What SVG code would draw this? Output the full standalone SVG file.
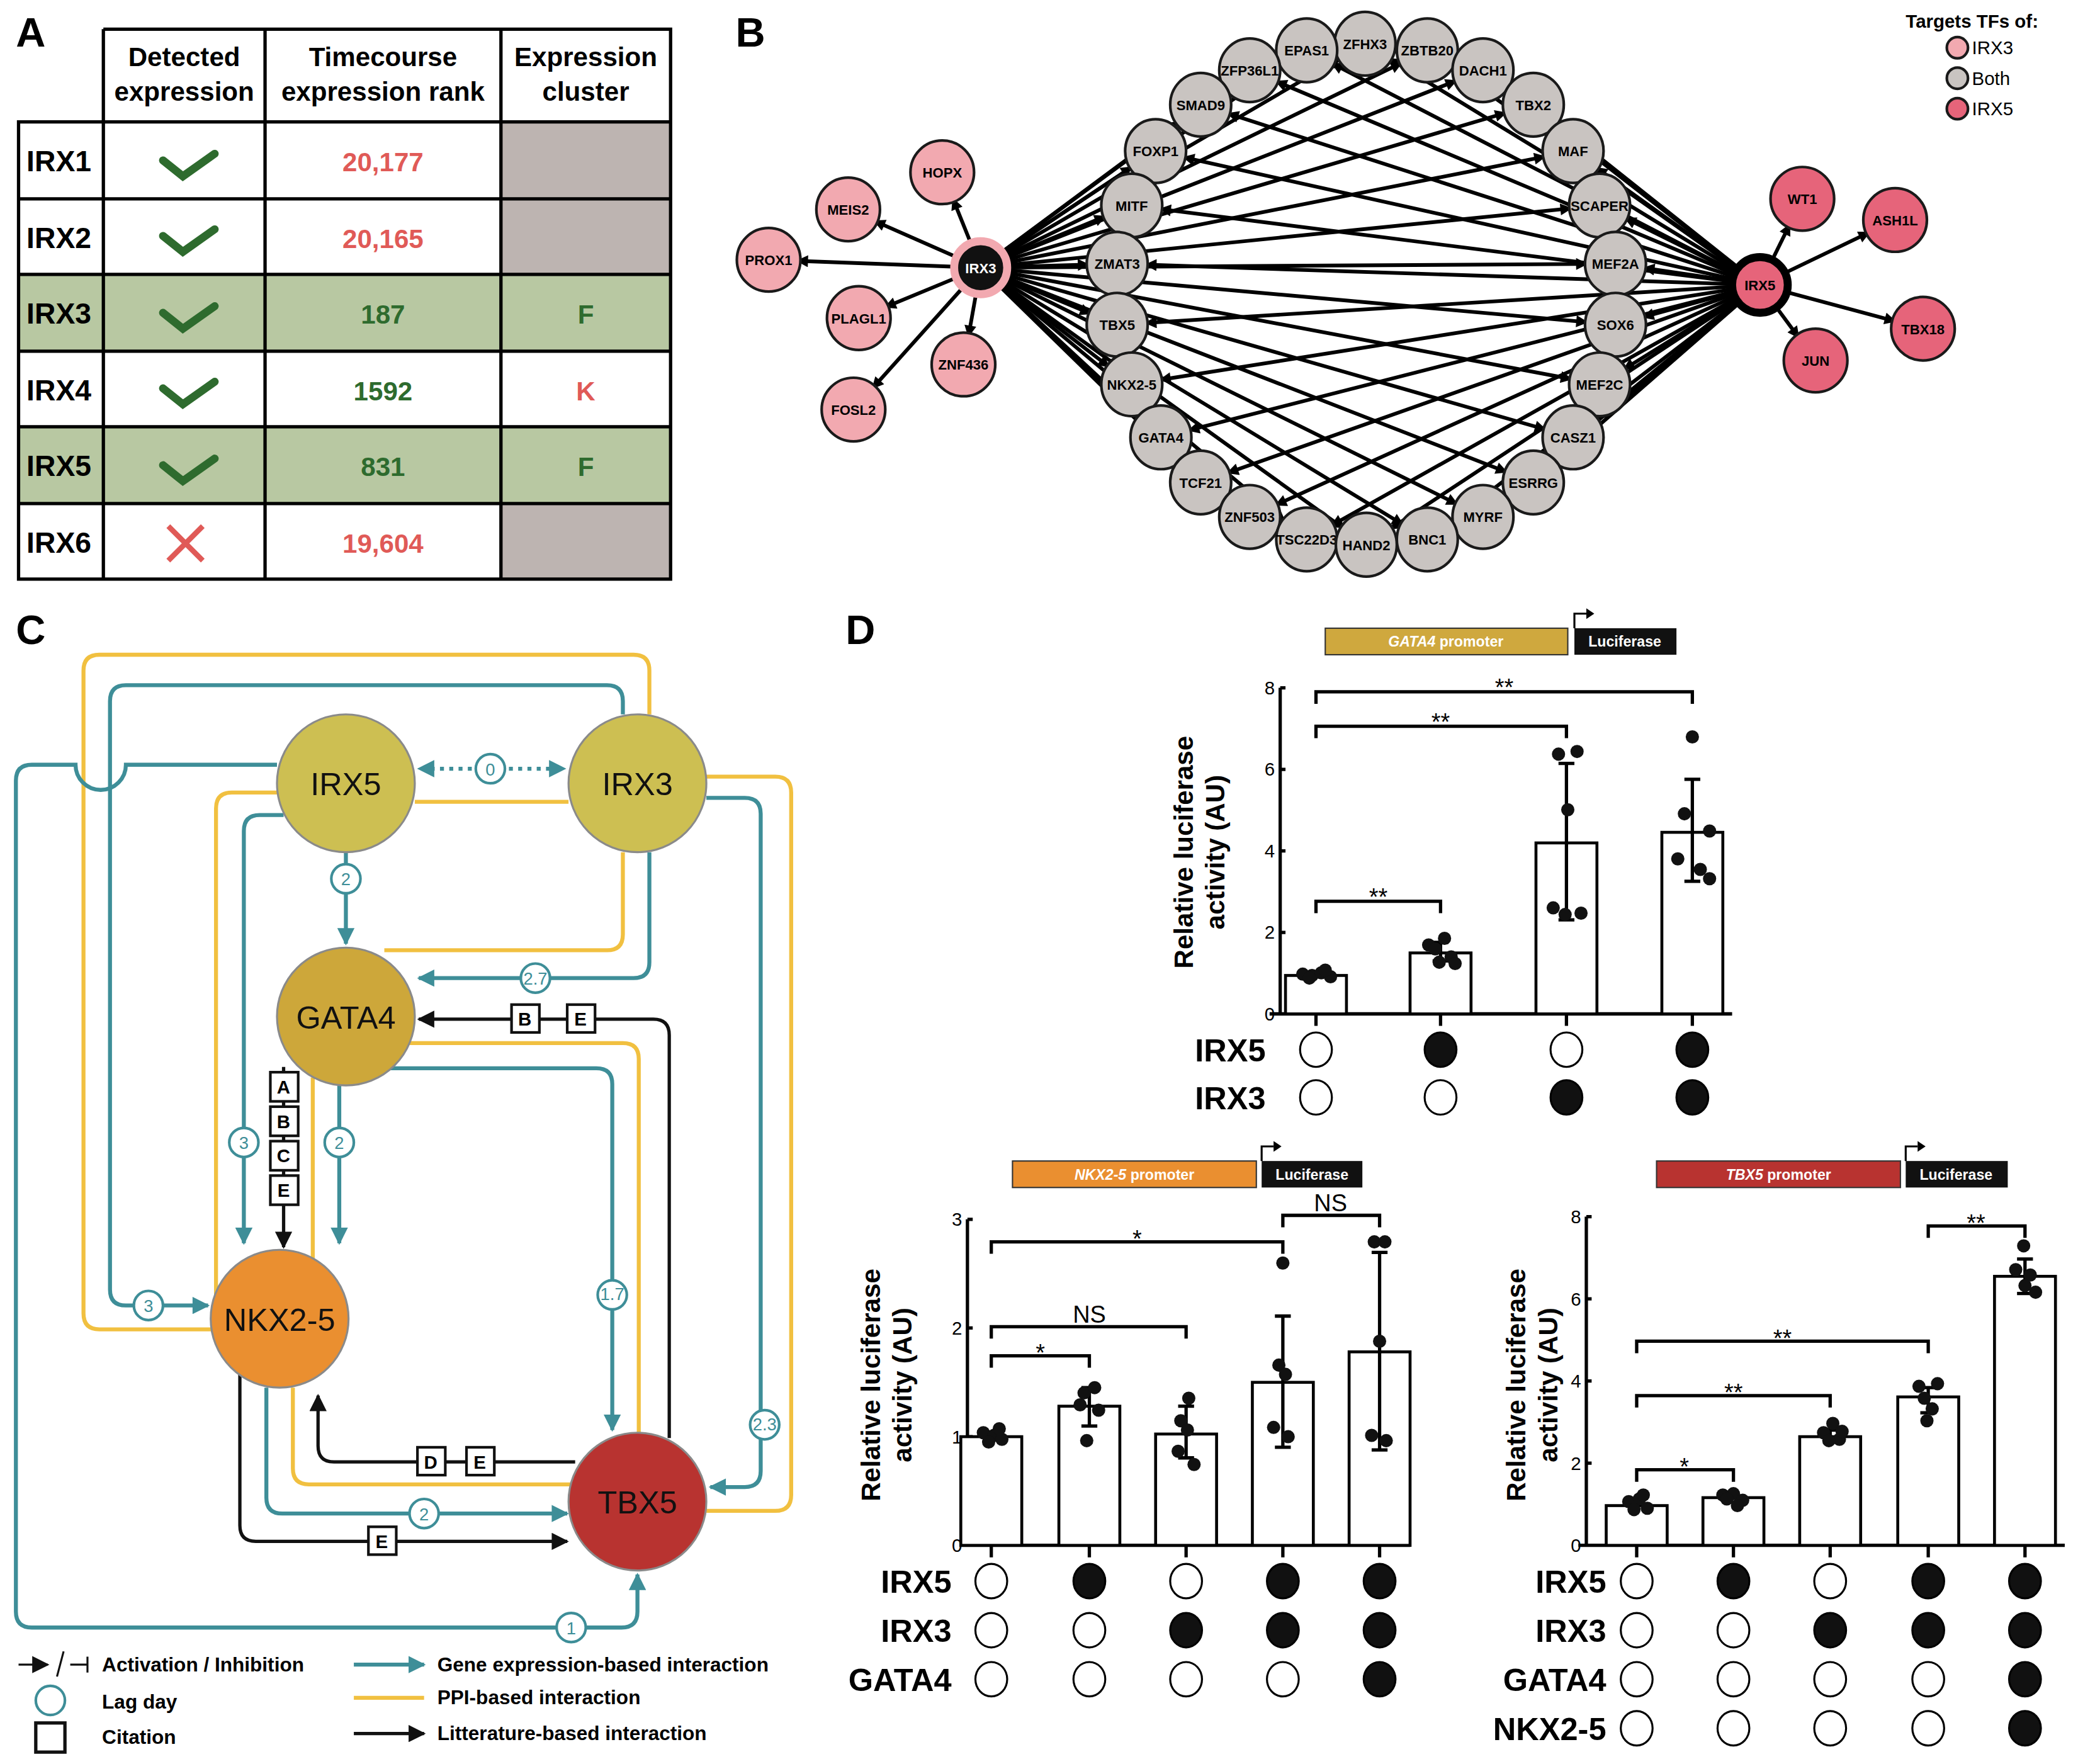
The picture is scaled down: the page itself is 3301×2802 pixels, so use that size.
<svg xmlns="http://www.w3.org/2000/svg" width="3301" height="2802" viewBox="0 0 3301 2802">
<defs>
<style>
text{font-family:"Liberation Sans",Arial,sans-serif;}
.pl{font-size:31px;font-weight:bold;}
.th{font-size:20px;font-weight:bold;text-anchor:middle;}
.rn{font-size:22px;font-weight:bold;}
.vr{font-size:20px;font-weight:bold;fill:#e05a57;text-anchor:middle;}
.vg{font-size:20px;font-weight:bold;fill:#2e6b2e;text-anchor:middle;}
.cell{fill:none;stroke:#000;stroke-width:2.5;}
.be{stroke:#000;stroke-width:2.8;fill:none;}
.rg{fill:#c9c4c1;stroke:#1a1a1a;stroke-width:2;}
.pk{fill:#f2a9b0;stroke:#1a1a1a;stroke-width:2;}
.rd{fill:#e6647a;stroke:#1a1a1a;stroke-width:2;}
.nl{font-size:10.5px;font-weight:bold;text-anchor:middle;}
.t{stroke:#3e8e98;stroke-width:3;fill:none;}
.y{stroke:#f1c040;stroke-width:3;fill:none;}
.k{stroke:#111;stroke-width:2.5;fill:none;}
.lag{fill:#fff;stroke:#3e8e98;stroke-width:2;}
.lagt{font-size:13px;fill:#3e8e98;text-anchor:middle;}
.cit{fill:#fff;stroke:#111;stroke-width:2;}
.citt{font-size:14px;font-weight:bold;text-anchor:middle;}
.big{font-size:24px;text-anchor:middle;fill:#111;}
.lg{font-size:15px;font-weight:bold;}
.ax{stroke:#000;stroke-width:2.5;fill:none;}
.bar{fill:#fff;stroke:#000;stroke-width:2.2;}
.tk{font-size:14px;text-anchor:end;}
.yl{font-size:20px;font-weight:bold;text-anchor:middle;}
.st{font-size:18px;text-anchor:middle;}
.rl{font-size:24px;font-weight:bold;text-anchor:end;}
.eo{fill:#fff;stroke:#000;stroke-width:1.5;}
.ef{fill:#111;stroke:#000;stroke-width:1.5;}
.pr{font-size:11px;font-style:italic;font-weight:bold;fill:#fff;text-anchor:middle;}
.lu{font-size:11px;font-weight:bold;fill:#fff;text-anchor:middle;}
</style>
<marker id="ab" viewBox="0 0 10 10" refX="33" refY="5" markerWidth="11" markerHeight="9" markerUnits="userSpaceOnUse" orient="auto"><path d="M0,0L10,5L0,10z" fill="#000"/></marker>
<marker id="at" viewBox="0 0 10 10" refX="9" refY="5" markerWidth="16" markerHeight="13" markerUnits="userSpaceOnUse" orient="auto"><path d="M0,0L10,5L0,10z" fill="#3e8e98"/></marker>
<marker id="ak" viewBox="0 0 10 10" refX="9" refY="5" markerWidth="16" markerHeight="13" markerUnits="userSpaceOnUse" orient="auto"><path d="M0,0L10,5L0,10z" fill="#111"/></marker>
</defs>
<rect width="3301" height="2802" fill="#fff"/>
<g transform="scale(2.10523)">
<g id="panelA">
<text class="pl" x="12" y="35">A</text>
<rect x="14" y="207" width="492" height="58" fill="#b8c8a2"/>
<rect x="14" y="322" width="492" height="58" fill="#b8c8a2"/>
<rect x="378" y="92" width="128" height="116" fill="#bdb4b1"/>
<rect x="378" y="380" width="128" height="57" fill="#bdb4b1"/>
<path class="cell" d="M78,22H506V437H14V92H506M78,22V437M200,22V437M378,22V437M506,22V437M14,150H506M14,207H506M14,265H506M14,322H506M14,380H506"/>
<text class="th" x="139" y="50">Detected</text><text class="th" x="139" y="76">expression</text>
<text class="th" x="289" y="50">Timecourse</text><text class="th" x="289" y="76">expression rank</text>
<text class="th" x="442" y="50">Expression</text><text class="th" x="442" y="76">cluster</text>
<text class="rn" x="20" y="129">IRX1</text><text class="rn" x="20" y="187">IRX2</text><text class="rn" x="20" y="244">IRX3</text><text class="rn" x="20" y="302">IRX4</text><text class="rn" x="20" y="359">IRX5</text><text class="rn" x="20" y="417">IRX6</text>
<g stroke="#2e6b2e" stroke-width="6" fill="none" stroke-linecap="round">
<path d="M123,121L138,133L162,116"/><path d="M123,178L138,190L162,173"/><path d="M123,236L138,248L162,231"/><path d="M123,293L138,305L162,288"/><path d="M123,351L138,363L162,346"/>
</g>
<path d="M127,397L153,423M153,397L127,423" stroke="#e05a57" stroke-width="4"/>
<text class="vr" x="289" y="129">20,177</text><text class="vr" x="289" y="187">20,165</text>
<text class="vg" x="289" y="244">187</text><text class="vg" x="289" y="302">1592</text><text class="vg" x="289" y="359">831</text>
<text class="vr" x="289" y="417">19,604</text>
<text class="vg" x="442" y="244">F</text><text class="vr" x="442" y="302">K</text><text class="vg" x="442" y="359">F</text>
</g>
<text class="pl" x="555" y="35">B</text>
<g id="B-edges">
<g class="be" marker-end="url(#ab)">
<path d="M740,202L1030,33"/><path d="M740,202L986,38"/><path d="M740,202L1077,38"/><path d="M740,202L943,53"/><path d="M740,202L1119,53"/><path d="M740,202L906,79"/><path d="M740,202L1157,79"/><path d="M740,202L872,114"/><path d="M740,202L1187,114"/><path d="M740,202L854,155"/><path d="M740,202L1207,155"/><path d="M740,202L843,199"/><path d="M740,202L1219,199"/><path d="M740,202L843,245"/><path d="M740,202L1219,245"/><path d="M740,202L854,290"/><path d="M740,202L1207,290"/><path d="M740,202L876,330"/><path d="M740,202L1187,330"/><path d="M740,202L906,364"/><path d="M740,202L1157,364"/><path d="M740,202L943,390"/><path d="M740,202L1119,390"/><path d="M740,202L986,407"/><path d="M740,202L1077,407"/><path d="M740,202L1031,411"/>
<path d="M1328,215L1030,33"/><path d="M1328,215L986,38"/><path d="M1328,215L1077,38"/><path d="M1328,215L943,53"/><path d="M1328,215L1119,53"/><path d="M1328,215L906,79"/><path d="M1328,215L1157,79"/><path d="M1328,215L872,114"/><path d="M1328,215L1187,114"/><path d="M1328,215L854,155"/><path d="M1328,215L1207,155"/><path d="M1328,215L843,199"/><path d="M1328,215L1219,199"/><path d="M1328,215L843,245"/><path d="M1328,215L1219,245"/><path d="M1328,215L854,290"/><path d="M1328,215L1207,290"/><path d="M1328,215L876,330"/><path d="M1328,215L1187,330"/><path d="M1328,215L906,364"/><path d="M1328,215L1157,364"/><path d="M1328,215L943,390"/><path d="M1328,215L1119,390"/><path d="M1328,215L986,407"/><path d="M1328,215L1077,407"/><path d="M1328,215L1031,411"/>
<path d="M740,202L711,130"/><path d="M740,202L640,158"/><path d="M740,202L580,196"/><path d="M740,202L648,240"/><path d="M740,202L727,275"/><path d="M740,202L644,309"/>
<path d="M1328,215L1360,150"/><path d="M1328,215L1430,166"/><path d="M1328,215L1451,248"/><path d="M1328,215L1370,272"/>
</g>
</g>
<g id="B-nodes">
<g id="n-ZFHX3"><ellipse class="rg" cx="1030" cy="33" rx="23" ry="24"/><text class="nl" x="1030" y="37">ZFHX3</text></g>
<g id="n-EPAS1"><ellipse class="rg" cx="986" cy="38" rx="23" ry="24"/><text class="nl" x="986" y="42">EPAS1</text></g>
<g id="n-ZBTB20"><ellipse class="rg" cx="1077" cy="38" rx="23" ry="24"/><text class="nl" x="1077" y="42">ZBTB20</text></g>
<g id="n-ZFP36L1"><ellipse class="rg" cx="943" cy="53" rx="23" ry="24"/><text class="nl" x="943" y="57">ZFP36L1</text></g>
<g id="n-DACH1"><ellipse class="rg" cx="1119" cy="53" rx="23" ry="24"/><text class="nl" x="1119" y="57">DACH1</text></g>
<g id="n-SMAD9"><ellipse class="rg" cx="906" cy="79" rx="23" ry="24"/><text class="nl" x="906" y="83">SMAD9</text></g>
<g id="n-TBX2"><ellipse class="rg" cx="1157" cy="79" rx="23" ry="24"/><text class="nl" x="1157" y="83">TBX2</text></g>
<g id="n-FOXP1"><ellipse class="rg" cx="872" cy="114" rx="23" ry="24"/><text class="nl" x="872" y="118">FOXP1</text></g>
<g id="n-MAF"><ellipse class="rg" cx="1187" cy="114" rx="23" ry="24"/><text class="nl" x="1187" y="118">MAF</text></g>
<g id="n-MITF"><ellipse class="rg" cx="854" cy="155" rx="23" ry="24"/><text class="nl" x="854" y="159">MITF</text></g>
<g id="n-SCAPER"><ellipse class="rg" cx="1207" cy="155" rx="23" ry="24"/><text class="nl" x="1207" y="159">SCAPER</text></g>
<g id="n-ZMAT3"><ellipse class="rg" cx="843" cy="199" rx="23" ry="24"/><text class="nl" x="843" y="203">ZMAT3</text></g>
<g id="n-MEF2A"><ellipse class="rg" cx="1219" cy="199" rx="23" ry="24"/><text class="nl" x="1219" y="203">MEF2A</text></g>
<g id="n-TBX5"><ellipse class="rg" cx="843" cy="245" rx="23" ry="24"/><text class="nl" x="843" y="249">TBX5</text></g>
<g id="n-SOX6"><ellipse class="rg" cx="1219" cy="245" rx="23" ry="24"/><text class="nl" x="1219" y="249">SOX6</text></g>
<g id="n-NKX25"><ellipse class="rg" cx="854" cy="290" rx="23" ry="24"/><text class="nl" x="854" y="294">NKX2-5</text></g>
<g id="n-MEF2C"><ellipse class="rg" cx="1207" cy="290" rx="23" ry="24"/><text class="nl" x="1207" y="294">MEF2C</text></g>
<g id="n-GATA4"><ellipse class="rg" cx="876" cy="330" rx="23" ry="24"/><text class="nl" x="876" y="334">GATA4</text></g>
<g id="n-CASZ1"><ellipse class="rg" cx="1187" cy="330" rx="23" ry="24"/><text class="nl" x="1187" y="334">CASZ1</text></g>
<g id="n-TCF21"><ellipse class="rg" cx="906" cy="364" rx="23" ry="24"/><text class="nl" x="906" y="368">TCF21</text></g>
<g id="n-ESRRG"><ellipse class="rg" cx="1157" cy="364" rx="23" ry="24"/><text class="nl" x="1157" y="368">ESRRG</text></g>
<g id="n-ZNF503"><ellipse class="rg" cx="943" cy="390" rx="23" ry="24"/><text class="nl" x="943" y="394">ZNF503</text></g>
<g id="n-MYRF"><ellipse class="rg" cx="1119" cy="390" rx="23" ry="24"/><text class="nl" x="1119" y="394">MYRF</text></g>
<g id="n-TSC22D3"><ellipse class="rg" cx="986" cy="407" rx="23" ry="24"/><text class="nl" x="986" y="411">TSC22D3</text></g>
<g id="n-BNC1"><ellipse class="rg" cx="1077" cy="407" rx="23" ry="24"/><text class="nl" x="1077" y="411">BNC1</text></g>
<g id="n-HAND2"><ellipse class="rg" cx="1031" cy="411" rx="23" ry="24"/><text class="nl" x="1031" y="415">HAND2</text></g>
<g id="n-HOPX"><circle class="pk" cx="711" cy="130" r="24"/><text class="nl" x="711" y="134">HOPX</text></g>
<g id="n-MEIS2"><circle class="pk" cx="640" cy="158" r="24"/><text class="nl" x="640" y="162">MEIS2</text></g>
<g id="n-PROX1"><circle class="pk" cx="580" cy="196" r="24"/><text class="nl" x="580" y="200">PROX1</text></g>
<g id="n-PLAGL1"><circle class="pk" cx="648" cy="240" r="24"/><text class="nl" x="648" y="244">PLAGL1</text></g>
<g id="n-ZNF436"><circle class="pk" cx="727" cy="275" r="24"/><text class="nl" x="727" y="279">ZNF436</text></g>
<g id="n-FOSL2"><circle class="pk" cx="644" cy="309" r="24"/><text class="nl" x="644" y="313">FOSL2</text></g>
<g id="n-WT1"><circle class="rd" cx="1360" cy="150" r="24"/><text class="nl" x="1360" y="154">WT1</text></g>
<g id="n-ASH1L"><circle class="rd" cx="1430" cy="166" r="24"/><text class="nl" x="1430" y="170">ASH1L</text></g>
<g id="n-TBX18"><circle class="rd" cx="1451" cy="248" r="24"/><text class="nl" x="1451" y="252">TBX18</text></g>
<g id="n-JUN"><circle class="rd" cx="1370" cy="272" r="24"/><text class="nl" x="1370" y="276">JUN</text></g>
<g id="n-IRX3"><circle cx="740" cy="202" r="20" fill="#111" stroke="#f2a9b0" stroke-width="6"/><text class="nl" x="740" y="206" fill="#fff" font-size="12">IRX3</text></g>
<g id="n-IRX5"><circle cx="1328" cy="215" r="21" fill="#e6647a" stroke="#000" stroke-width="6"/><text class="nl" x="1328" y="219" font-size="12">IRX5</text></g>
</g>
<g id="B-legend">
<text x="1438" y="21" font-size="14" font-weight="bold">Targets TFs of:</text>
<circle class="pk" cx="1477" cy="36" r="8"/><text x="1488" y="41" font-size="14">IRX3</text>
<circle class="rg" cx="1477" cy="59" r="8"/><text x="1488" y="64" font-size="14">Both</text>
<circle class="rd" cx="1477" cy="82" r="8"/><text x="1488" y="87" font-size="14">IRX5</text>
</g>
<text class="pl" x="12" y="486">C</text>
<g id="C-connectors">
<path class="y" d="M490,539V506Q490,494 478,494H75Q63,494 63,506V991Q63,1003 75,1003H160"/>
<path class="t" d="M470,539V529Q470,517 458,517H95Q83,517 83,529V973Q83,985 95,985H157" marker-end="url(#at)"/>
<path class="t" d="M209,577H95A19,19 0 0 1 57,577H24Q12,577 12,589V1216Q12,1228 24,1228H469Q481,1228 481,1216V1188" marker-end="url(#at)"/>
<path class="y" d="M212,598H175Q163,598 163,610V985"/>
<path class="t" d="M214,615H196Q184,615 184,627V938" marker-end="url(#at)"/>
<path class="y" d="M313,605H429"/>
<path class="t" d="M356,580H316" stroke-dasharray="3,4" marker-end="url(#at)"/>
<path class="t" d="M384,580H426" stroke-dasharray="3,4" marker-end="url(#at)"/>
<path class="t" d="M261,643V712" marker-end="url(#at)"/>
<path class="y" d="M470,643V705Q470,717 458,717H290"/>
<path class="t" d="M490,643V726Q490,738 478,738H316" marker-end="url(#at)"/>
<path class="k" d="M505,1085V781Q505,769 493,769H316" marker-end="url(#ak)"/>
<path class="y" d="M305,787H470Q482,787 482,799V1085"/>
<path class="t" d="M290,806H450Q462,806 462,818V1079" marker-end="url(#at)"/>
<path class="t" d="M533,602H562Q574,602 574,614V1110Q574,1122 562,1122H536" marker-end="url(#at)"/>
<path class="y" d="M533,586H585Q597,586 597,598V1128Q597,1140 585,1140H533"/>
<path class="k" d="M214,805V941" marker-end="url(#ak)"/>
<path class="t" d="M256,819V938" marker-end="url(#at)"/>
<path class="y" d="M236,813V950"/>
<path class="k" d="M434,1103H252Q240,1103 240,1091V1053" marker-end="url(#ak)"/>
<path class="y" d="M221,1047V1108Q221,1120 233,1120H434"/>
<path class="t" d="M201,1047V1130Q201,1142 213,1142H428" marker-end="url(#at)"/>
<path class="k" d="M181,1037V1151Q181,1163 193,1163H428" marker-end="url(#ak)"/>
</g>
<g id="C-labels">
<circle class="lag" cx="370" cy="580" r="11"/><text class="lagt" x="370" y="585">0</text>
<circle class="lag" cx="261" cy="663" r="11"/><text class="lagt" x="261" y="668">2</text>
<circle class="lag" cx="404" cy="738" r="11"/><text class="lagt" x="404" y="743" font-size="11">2.7</text>
<circle class="lag" cx="184" cy="862" r="11"/><text class="lagt" x="184" y="867">3</text>
<circle class="lag" cx="256" cy="862" r="11"/><text class="lagt" x="256" y="867">2</text>
<circle class="lag" cx="112" cy="985" r="11"/><text class="lagt" x="112" y="990">3</text>
<circle class="lag" cx="462" cy="977" r="11"/><text class="lagt" x="462" y="981" font-size="11">1.7</text>
<circle class="lag" cx="577" cy="1075" r="11"/><text class="lagt" x="577" y="1079" font-size="11">2.3</text>
<circle class="lag" cx="320" cy="1142" r="11"/><text class="lagt" x="320" y="1147">2</text>
<circle class="lag" cx="431" cy="1228" r="11"/><text class="lagt" x="431" y="1233">1</text>
<rect class="cit" x="386" y="758" width="21" height="21"/><text class="citt" x="396" y="774">B</text>
<rect class="cit" x="428" y="758" width="21" height="21"/><text class="citt" x="438" y="774">E</text>
<rect class="cit" x="204" y="809" width="21" height="22"/><text class="citt" x="214" y="825">A</text>
<rect class="cit" x="204" y="835" width="21" height="22"/><text class="citt" x="214" y="851">B</text>
<rect class="cit" x="204" y="861" width="21" height="22"/><text class="citt" x="214" y="877">C</text>
<rect class="cit" x="204" y="887" width="21" height="22"/><text class="citt" x="214" y="903">E</text>
<rect class="cit" x="315" y="1092" width="21" height="21"/><text class="citt" x="325" y="1108">D</text>
<rect class="cit" x="352" y="1092" width="21" height="21"/><text class="citt" x="362" y="1108">E</text>
<rect class="cit" x="278" y="1152" width="21" height="21"/><text class="citt" x="288" y="1168">E</text>
</g>
<g id="c-IRX5"><circle cx="261" cy="591" r="52" fill="#cdbf52" stroke="#8a8a8a" stroke-width="1.5"/><text class="big" x="261" y="600">IRX5</text></g>
<g id="c-IRX3"><circle cx="481" cy="591" r="52" fill="#cdbf52" stroke="#8a8a8a" stroke-width="1.5"/><text class="big" x="481" y="600">IRX3</text></g>
<g id="c-GATA4"><circle cx="261" cy="767" r="52" fill="#cda73a" stroke="#8a8a8a" stroke-width="1.5"/><text class="big" x="261" y="776">GATA4</text></g>
<g id="c-NKX25"><circle cx="211" cy="995" r="52" fill="#ea8f30" stroke="#8a8a8a" stroke-width="1.5"/><text class="big" x="211" y="1004">NKX2-5</text></g>
<g id="c-TBX5"><circle cx="481" cy="1133" r="52" fill="#b83330" stroke="#8a8a8a" stroke-width="1.5"/><text class="big" x="481" y="1142">TBX5</text></g>
<g id="C-legend">
<path d="M14,1256H36" stroke="#111" stroke-width="1.5" marker-end="url(#ak)"/>
<path d="M43,1265L48,1246M53,1256H66M66,1250V1262" stroke="#111" stroke-width="1.5" fill="none"/>
<text class="lg" x="77" y="1261">Activation / Inhibition</text>
<circle cx="38" cy="1283" r="11" fill="#fff" stroke="#3e8e98" stroke-width="2"/><text class="lg" x="77" y="1289">Lag day</text>
<rect x="27" y="1300" width="22" height="22" fill="#fff" stroke="#111" stroke-width="2.5"/><text class="lg" x="77" y="1316">Citation</text>
<path class="t" d="M267,1256H320" marker-end="url(#at)"/><text class="lg" x="330" y="1261">Gene expression-based interaction</text>
<path class="y" d="M267,1281H320"/><text class="lg" x="330" y="1286">PPI-based interaction</text>
<path class="k" d="M267,1308H320" marker-end="url(#ak)"/><text class="lg" x="330" y="1313">Litterature-based interaction</text>
</g>
<text class="pl" x="638" y="486">D</text>
<g id="D-gata4">
<rect x="1000" y="474" width="183" height="20" fill="#cfa83e" stroke="#333"/><text class="pr" x="1091" y="488">GATA4 <tspan font-style="normal">promoter</tspan></text>
<rect x="1188" y="474" width="77" height="20" fill="#111"/><text class="lu" x="1226" y="488">Luciferase</text>
<path d="M1188,474V463H1197" stroke="#000" stroke-width="1.5" fill="none"/><path d="M1197,459L1203,463L1197,467z"/>
<path class="ax" d="M966,519V765M966,519H970M966,580.5H970M966,642H970M966,703.5H970M958,765H1307M993,765V774M1087,765V774M1182,765V774M1277,765V774"/>
<text class="tk" x="962" y="524">8</text><text class="tk" x="962" y="585">6</text><text class="tk" x="962" y="647">4</text><text class="tk" x="962" y="708">2</text><text class="tk" x="962" y="770">0</text>
<text class="yl" transform="translate(900,643) rotate(-90)">Relative luciferase</text>
<text class="yl" transform="translate(924,643) rotate(-90)">activity (AU)</text>
<rect class="bar" x="970" y="736" width="46" height="29"/><rect class="bar" x="1064" y="719" width="46" height="46"/><rect class="bar" x="1159" y="636" width="46" height="129"/><rect class="bar" x="1254" y="628" width="46" height="137"/>
<path class="ax" d="M1087,711V725M1081,711H1093M1081,725H1093M1182,576V694M1176,576H1188M1176,694H1188M1277,588V665M1271,588H1283M1271,665H1283" stroke-width="2"/>
<g fill="#111"><circle cx="983" cy="735" r="5"/><circle cx="990" cy="736" r="5"/><circle cx="997" cy="734" r="5"/><circle cx="1004" cy="737" r="5"/><circle cx="988" cy="738" r="5"/><circle cx="1000" cy="732" r="5"/>
<circle cx="1090" cy="708" r="5"/><circle cx="1078" cy="713" r="5"/><circle cx="1083" cy="716" r="5"/><circle cx="1095" cy="722" r="5"/><circle cx="1086" cy="726" r="5"/><circle cx="1098" cy="727" r="5"/>
<circle cx="1176" cy="569" r="5"/><circle cx="1190" cy="567" r="5"/><circle cx="1183" cy="611" r="5"/><circle cx="1172" cy="685" r="5"/><circle cx="1181" cy="690" r="5"/><circle cx="1193" cy="689" r="5"/>
<circle cx="1277" cy="556" r="5"/><circle cx="1271" cy="614" r="5"/><circle cx="1290" cy="627" r="5"/><circle cx="1266" cy="648" r="5"/><circle cx="1283" cy="656" r="5"/><circle cx="1290" cy="663" r="5"/></g>
<path class="ax" d="M993,689V680H1087V689M993,557V548H1182V557M993,531V522H1277V531" stroke-width="2"/>
<text class="st" x="1040" y="683">**</text><text class="st" x="1087" y="551">**</text><text class="st" x="1135" y="525">**</text>
<text class="rl" x="955" y="801">IRX5</text><text class="rl" x="955" y="837">IRX3</text>
<ellipse class="eo" cx="993" cy="792" rx="12" ry="13"/><ellipse class="ef" cx="1087" cy="792" rx="12" ry="13"/><ellipse class="eo" cx="1182" cy="792" rx="12" ry="13"/><ellipse class="ef" cx="1277" cy="792" rx="12" ry="13"/>
<ellipse class="eo" cx="993" cy="828" rx="12" ry="13"/><ellipse class="eo" cx="1087" cy="828" rx="12" ry="13"/><ellipse class="ef" cx="1182" cy="828" rx="12" ry="13"/><ellipse class="ef" cx="1277" cy="828" rx="12" ry="13"/>
</g>
<g id="D-nkx">
<rect x="764" y="876" width="184" height="20" fill="#ea8f30" stroke="#333"/><text class="pr" x="856" y="890">NKX2-5 <tspan font-style="normal">promoter</tspan></text>
<rect x="952" y="876" width="76" height="20" fill="#111"/><text class="lu" x="990" y="890">Luciferase</text>
<path d="M952,876V865H961" stroke="#000" stroke-width="1.5" fill="none"/><path d="M961,861L967,865L961,869z"/>
<path class="ax" d="M730,920V1166M730,920H734M730,1002H734M730,1084H734M724,1166H1064M748,1166V1175M822,1166V1175M895,1166V1175M968,1166V1175M1041,1166V1175"/>
<text class="tk" x="726" y="925">3</text><text class="tk" x="726" y="1007">2</text><text class="tk" x="726" y="1089">1</text><text class="tk" x="726" y="1171">0</text>
<text class="yl" transform="translate(664,1045) rotate(-90)">Relative luciferase</text>
<text class="yl" transform="translate(688,1045) rotate(-90)">activity (AU)</text>
<rect class="bar" x="725" y="1084" width="46" height="82"/><rect class="bar" x="799" y="1061" width="46" height="105"/><rect class="bar" x="872" y="1082" width="46" height="84"/><rect class="bar" x="945" y="1043" width="46" height="123"/><rect class="bar" x="1018" y="1020" width="46" height="146"/>
<path class="ax" d="M822,1047V1076M816,1047H828M816,1076H828M895,1061V1100M889,1061H901M889,1100H901M968,993V1092M962,993H974M962,1092H974M1041,945V1094M1035,945H1047M1035,1094H1047" stroke-width="2"/>
<g fill="#111"><circle cx="742" cy="1081" r="5"/><circle cx="750" cy="1083" r="5"/><circle cx="756" cy="1086" r="5"/><circle cx="746" cy="1088" r="5"/><circle cx="754" cy="1078" r="5"/>
<circle cx="818" cy="1051" r="5"/><circle cx="826" cy="1047" r="5"/><circle cx="815" cy="1060" r="5"/><circle cx="829" cy="1064" r="5"/><circle cx="820" cy="1087" r="5"/>
<circle cx="897" cy="1055" r="5"/><circle cx="891" cy="1072" r="5"/><circle cx="896" cy="1079" r="5"/><circle cx="889" cy="1095" r="5"/><circle cx="901" cy="1105" r="5"/>
<circle cx="968" cy="953" r="5"/><circle cx="965" cy="1030" r="5"/><circle cx="970" cy="1037" r="5"/><circle cx="961" cy="1077" r="5"/><circle cx="972" cy="1084" r="5"/>
<circle cx="1037" cy="937" r="5"/><circle cx="1045" cy="937" r="5"/><circle cx="1041" cy="1012" r="5"/><circle cx="1035" cy="1083" r="5"/><circle cx="1046" cy="1087" r="5"/></g>
<path class="ax" d="M748,1032V1023H822V1032M748,1010V1001H895V1010M748,946V937H968V946M968,926V917H1041V926" stroke-width="2"/>
<text class="st" x="785" y="1027">*</text><text class="st" x="822" y="998">NS</text><text class="st" x="858" y="941">*</text><text class="st" x="1004" y="914">NS</text>
<text class="rl" x="718" y="1202">IRX5</text><text class="rl" x="718" y="1239">IRX3</text><text class="rl" x="718" y="1276">GATA4</text>
<ellipse class="eo" cx="748" cy="1193" rx="12" ry="13"/><ellipse class="ef" cx="822" cy="1193" rx="12" ry="13"/><ellipse class="eo" cx="895" cy="1193" rx="12" ry="13"/><ellipse class="ef" cx="968" cy="1193" rx="12" ry="13"/><ellipse class="ef" cx="1041" cy="1193" rx="12" ry="13"/>
<ellipse class="eo" cx="748" cy="1230" rx="12" ry="13"/><ellipse class="eo" cx="822" cy="1230" rx="12" ry="13"/><ellipse class="ef" cx="895" cy="1230" rx="12" ry="13"/><ellipse class="ef" cx="968" cy="1230" rx="12" ry="13"/><ellipse class="ef" cx="1041" cy="1230" rx="12" ry="13"/>
<ellipse class="eo" cx="748" cy="1267" rx="12" ry="13"/><ellipse class="eo" cx="822" cy="1267" rx="12" ry="13"/><ellipse class="eo" cx="895" cy="1267" rx="12" ry="13"/><ellipse class="eo" cx="968" cy="1267" rx="12" ry="13"/><ellipse class="ef" cx="1041" cy="1267" rx="12" ry="13"/>
</g>
<g id="D-tbx">
<rect x="1250" y="876" width="184" height="20" fill="#b83330" stroke="#333"/><text class="pr" x="1342" y="890">TBX5 <tspan font-style="normal">promoter</tspan></text>
<rect x="1438" y="876" width="77" height="20" fill="#111"/><text class="lu" x="1476" y="890">Luciferase</text>
<path d="M1438,876V865H1447" stroke="#000" stroke-width="1.5" fill="none"/><path d="M1447,861L1453,865L1447,869z"/>
<path class="ax" d="M1197,918V1166M1197,918H1201M1197,980H1201M1197,1042H1201M1197,1104H1201M1191,1166H1558M1235,1166V1175M1308,1166V1175M1381,1166V1175M1455,1166V1175M1528,1166V1175"/>
<text class="tk" x="1193" y="923">8</text><text class="tk" x="1193" y="985">6</text><text class="tk" x="1193" y="1047">4</text><text class="tk" x="1193" y="1109">2</text><text class="tk" x="1193" y="1171">0</text>
<text class="yl" transform="translate(1151,1045) rotate(-90)">Relative luciferase</text>
<text class="yl" transform="translate(1175,1045) rotate(-90)">activity (AU)</text>
<rect class="bar" x="1212" y="1136" width="46" height="30"/><rect class="bar" x="1285" y="1130" width="46" height="36"/><rect class="bar" x="1358" y="1084" width="46" height="82"/><rect class="bar" x="1432" y="1054" width="46" height="112"/><rect class="bar" x="1505" y="963" width="46" height="203"/>
<path class="ax" d="M1381,1079V1089M1375,1079H1387M1455,1047V1066M1449,1047H1461M1449,1066H1461M1528,950V976M1522,950H1534M1522,976H1534" stroke-width="2"/>
<g fill="#111"><circle cx="1229" cy="1133" r="5"/><circle cx="1237" cy="1131" r="5"/><circle cx="1243" cy="1138" r="5"/><circle cx="1233" cy="1139" r="5"/><circle cx="1240" cy="1128" r="5"/>
<circle cx="1300" cy="1128" r="5"/><circle cx="1308" cy="1127" r="5"/><circle cx="1315" cy="1132" r="5"/><circle cx="1311" cy="1136" r="5"/><circle cx="1303" cy="1131" r="5"/>
<circle cx="1383" cy="1074" r="5"/><circle cx="1376" cy="1081" r="5"/><circle cx="1388" cy="1086" r="5"/><circle cx="1380" cy="1087" r="5"/><circle cx="1390" cy="1080" r="5"/>
<circle cx="1448" cy="1046" r="5"/><circle cx="1462" cy="1044" r="5"/><circle cx="1452" cy="1055" r="5"/><circle cx="1458" cy="1063" r="5"/><circle cx="1454" cy="1072" r="5"/>
<circle cx="1527" cy="940" r="5"/><circle cx="1521" cy="958" r="5"/><circle cx="1532" cy="962" r="5"/><circle cx="1528" cy="970" r="5"/><circle cx="1536" cy="975" r="5"/></g>
<path class="ax" d="M1235,1118V1109H1308V1118M1235,1062V1053H1381V1062M1235,1021V1012H1455V1021M1455,934V925H1528V934" stroke-width="2"/>
<text class="st" x="1271" y="1113">*</text><text class="st" x="1308" y="1057">**</text><text class="st" x="1345" y="1016">**</text><text class="st" x="1491" y="929">**</text>
<text class="rl" x="1212" y="1202">IRX5</text><text class="rl" x="1212" y="1239">IRX3</text><text class="rl" x="1212" y="1276">GATA4</text><text class="rl" x="1212" y="1313">NKX2-5</text>
<ellipse class="eo" cx="1235" cy="1193" rx="12" ry="13"/><ellipse class="ef" cx="1308" cy="1193" rx="12" ry="13"/><ellipse class="eo" cx="1381" cy="1193" rx="12" ry="13"/><ellipse class="ef" cx="1455" cy="1193" rx="12" ry="13"/><ellipse class="ef" cx="1528" cy="1193" rx="12" ry="13"/>
<ellipse class="eo" cx="1235" cy="1230" rx="12" ry="13"/><ellipse class="eo" cx="1308" cy="1230" rx="12" ry="13"/><ellipse class="ef" cx="1381" cy="1230" rx="12" ry="13"/><ellipse class="ef" cx="1455" cy="1230" rx="12" ry="13"/><ellipse class="ef" cx="1528" cy="1230" rx="12" ry="13"/>
<ellipse class="eo" cx="1235" cy="1267" rx="12" ry="13"/><ellipse class="eo" cx="1308" cy="1267" rx="12" ry="13"/><ellipse class="eo" cx="1381" cy="1267" rx="12" ry="13"/><ellipse class="eo" cx="1455" cy="1267" rx="12" ry="13"/><ellipse class="ef" cx="1528" cy="1267" rx="12" ry="13"/>
<ellipse class="eo" cx="1235" cy="1304" rx="12" ry="13"/><ellipse class="eo" cx="1308" cy="1304" rx="12" ry="13"/><ellipse class="eo" cx="1381" cy="1304" rx="12" ry="13"/><ellipse class="eo" cx="1455" cy="1304" rx="12" ry="13"/><ellipse class="ef" cx="1528" cy="1304" rx="12" ry="13"/>
</g>
</g>
</svg>
